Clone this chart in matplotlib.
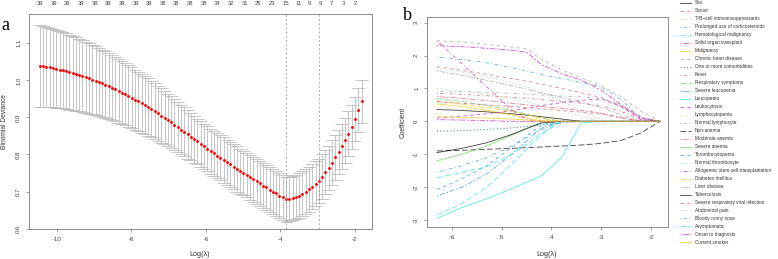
import matplotlib.pyplot as plt
import numpy as np
from matplotlib.lines import Line2D

plt.rcParams['font.family'] = ['Liberation Sans', 'DejaVu Sans']
plt.rcParams['axes.unicode_minus'] = False

# ---------------- panel a: cv curve ----------------
log_lambda = np.linspace(-10.46, -1.82, 99)
cv_mean = [1.039, 1.038, 1.036, 1.035, 1.033, 1.031, 1.029, 1.027, 1.025, 1.022,
           1.020, 1.017, 1.014, 1.011, 1.008, 1.005, 1.002, 0.999, 0.995, 0.992,
           0.988, 0.984, 0.980, 0.976, 0.972, 0.967, 0.963, 0.958, 0.953, 0.948,
           0.943, 0.938, 0.933, 0.928, 0.922, 0.917, 0.911, 0.905, 0.899, 0.893,
           0.887, 0.880, 0.874, 0.867, 0.861, 0.854, 0.848, 0.841, 0.835, 0.828,
           0.822, 0.816, 0.809, 0.803, 0.797, 0.791, 0.785, 0.779, 0.773, 0.767,
           0.761, 0.755, 0.750, 0.744, 0.738, 0.733, 0.727, 0.722, 0.716, 0.711,
           0.705, 0.700, 0.695, 0.689, 0.684, 0.679, 0.680, 0.682, 0.685, 0.689,
           0.694, 0.700, 0.706, 0.713, 0.721, 0.729, 0.740, 0.752, 0.764, 0.778,
           0.792, 0.807, 0.822, 0.838, 0.856, 0.875, 0.896, 0.919, 0.943]
cv_sd = [0.110, 0.109, 0.108, 0.107, 0.106, 0.105, 0.104, 0.103, 0.102, 0.101,
         0.100, 0.099, 0.098, 0.097, 0.096, 0.095, 0.094, 0.093, 0.092, 0.091,
         0.090, 0.089, 0.088, 0.087, 0.086, 0.085, 0.084, 0.083, 0.082, 0.081,
         0.080, 0.079, 0.078, 0.077, 0.076, 0.075, 0.074, 0.073, 0.072, 0.071,
         0.070, 0.069, 0.068, 0.067, 0.066, 0.065, 0.064, 0.063, 0.062, 0.062,
         0.061, 0.061, 0.061, 0.061, 0.061, 0.061, 0.061, 0.061, 0.061, 0.061,
         0.061, 0.061, 0.060, 0.060, 0.060, 0.060, 0.060, 0.060, 0.060, 0.060,
         0.060, 0.060, 0.060, 0.060, 0.060, 0.060, 0.060, 0.060, 0.060, 0.060,
         0.060, 0.060, 0.060, 0.060, 0.060, 0.060, 0.060, 0.060, 0.060, 0.060,
         0.060, 0.060, 0.060, 0.060, 0.060, 0.059, 0.059, 0.059, 0.059]

# number of non-zero coefficients shown on top
nz_pos = [-10.46, -10.09, -9.73, -9.36, -8.99, -8.62, -8.26, -7.89, -7.52, -7.16,
          -6.79, -6.42, -6.06, -5.69, -5.32, -4.95, -4.59, -4.22, -3.85,
          -3.52, -3.21, -2.92, -2.62, -2.30, -2.00]
nz_labels = [39, 39, 39, 39, 39, 39, 39, 39, 39, 38, 38, 38, 38, 34, 32, 31, 25, 23, 15,
             11, 9, 9, 7, 3, 2]

# ---------------- panel b: coefficient paths ----------------
path_x = [-6.3, -5.8, -5.3, -4.8, -4.5, -4.2, -3.8, -3.4, -3.0, -2.6, -2.2, -1.82]
sex = [0.36, 0.33, 0.29, 0.23, 0.19, 0.14, 0.07, 0, 0, 0, 0, 0]
senior = [1.66, 1.55, 1.43, 1.30, 1.22, 1.13, 1.00, 0.87, 0.72, 0.45, 0.12, 0]
tb_cell = [1.60, 1.50, 1.36, 1.18, 1.05, 0.88, 0.62, 0.32, 0.05, 0, 0, 0]
corticosteroids = [1.95, 1.88, 1.78, 1.63, 1.53, 1.43, 1.30, 1.18, 1.05, 0.65, 0.08, 0]
hemat_malignancy = [-2.85, -2.50, -2.00, -1.30, -0.85, -0.40, 0, 0, 0, 0, 0, 0]
solid_organ = [2.30, 2.27, 2.22, 2.16, 2.10, 1.72, 1.45, 1.25, 0.95, 0.50, 0.10, 0]
malignancy = [0.53, 0.45, 0.34, 0.20, 0.10, 0.02, 0, 0, 0, 0, 0, 0]
chronic_heart = [2.45, 2.41, 2.34, 2.26, 2.20, 1.88, 1.57, 1.32, 1.08, 0.75, 0.30, 0]
comorbidities = [-0.30, -0.28, -0.25, -0.20, -0.16, -0.11, -0.05, 0, 0, 0, 0, 0]
fever = [0.85, 0.82, 0.78, 0.73, 0.70, 0.66, 0.61, 0.55, 0.47, 0.30, 0.05, 0]
resp_symptoms = [0.69, 0.60, 0.48, 0.33, 0.22, 0.10, 0, 0, 0, 0, 0, 0]
severe_leucopenia = [-2.27, -2.00, -1.60, -1.00, -0.60, -0.20, 0, 0, 0, 0, 0, 0]
leucopenia = [-2.95, -2.62, -2.35, -2.05, -1.85, -1.65, -1.10, -0.05, 0, 0, 0, 0]
leukocytosis = [0.10, 0.16, 0.23, 0.32, 0.40, 0.48, 0.57, 0.64, 0.68, 0.45, 0.05, 0]
lymphocytopenia = [0.45, 0.38, 0.30, 0.20, 0.13, 0.05, 0, 0, 0, 0, 0, 0]
normal_lymph = [0.90, 0.90, 0.88, 0.85, 0.83, 0.80, 0.77, 0.74, 0.70, 0.50, 0.15, 0]
non_anemia = [-0.90, -0.88, -0.85, -0.82, -0.80, -0.78, -0.75, -0.72, -0.67, -0.58, -0.35, 0]
moderate_anemia = [0.75, 0.70, 0.63, 0.55, 0.50, 0.45, 0.40, 0.33, 0.25, 0.12, 0, 0]
severe_anemia = [-1.20, -1.00, -0.75, -0.42, -0.22, -0.02, 0, 0, 0, 0, 0, 0]
thrombocytopenia = [-2.07, -1.75, -1.35, -0.80, -0.45, -0.10, 0, 0, 0, 0, 0, 0]
normal_thromb = [-0.30, -0.28, -0.25, -0.20, -0.15, -0.10, -0.05, 0, 0, 0, 0, 0]
allogeneic = [2.45, 1.75, 1.05, 0.35, 0.05, 0, 0, 0, 0, 0, 0, 0]
diabetes = [0.60, 0.52, 0.42, 0.30, 0.20, 0.10, 0, 0, 0, 0, 0, 0]
liver = [1.53, 1.40, 1.25, 1.08, 0.98, 0.87, 0.73, 0.58, 0.42, 0.20, 0, 0]
tuberculosis = [-0.95, -0.82, -0.65, -0.40, -0.22, -0.05, 0, 0, 0, 0, 0, 0]
resp_viral = [0.60, 0.55, 0.50, 0.45, 0.42, 0.38, 0.33, 0.28, 0.22, 0.10, 0, 0]
abdominal_pain = [1.00, 0.92, 0.82, 0.70, 0.60, 0.48, 0.32, 0.15, 0, 0, 0, 0]
runny_nose = [-1.55, -1.35, -1.10, -0.75, -0.50, -0.25, 0, 0, 0, 0, 0, 0]
asymptomatic = [-1.72, -1.55, -1.38, -1.00, -0.70, -0.35, 0, 0, 0, 0, 0, 0]
onset = [0.05, 0.04, 0.02, 0, 0, 0, 0, 0, 0, 0, 0, 0]
smoker = [0.14, 0.12, 0.10, 0.07, 0.04, 0, 0, 0, 0, 0, 0, 0]

coef_names = ['Sex', 'Senior', 'T/B\u2212cell immunosuppressants', 'Prolonged use of corticosteroids',
              'Hematological malignancy', 'Solid organ transplant', 'Malignancy',
              'Chronic heart disease', 'One or more comorbidities', 'Fever',
              'Respiratory symptoms', 'Severe leucopenia', 'Leucopenia', 'Leukocytosis',
              'Lymphocytopenia', 'Normal lymphocyte', 'Non-anemia', 'Moderate anemia',
              'Severe anemia', 'Thrombocytopenia', 'Normal thrombocyte',
              'Allogeneic stem cell transplantation', 'Diabetes mellitus', 'Liver disease',
              'Tuberculosis', 'Severe respiratory viral infection', 'Abdominal pain',
              'Bloody runny nose', 'Asymptomatic', 'Onset to diagnosis', 'Current smoker']
coef_paths = [sex, senior, tb_cell, corticosteroids, hemat_malignancy, solid_organ, malignancy,
              chronic_heart, comorbidities, fever, resp_symptoms, severe_leucopenia, leucopenia,
              leukocytosis, lymphocytopenia, normal_lymph, non_anemia, moderate_anemia,
              severe_anemia, thrombocytopenia, normal_thromb, allogeneic, diabetes, liver,
              tuberculosis, resp_viral, abdominal_pain, runny_nose, asymptomatic, onset, smoker]

# R 4.x default palette and line types (cycled like matplot)
r_palette = ['#000000', '#DF536B', '#61D04F', '#2297E6', '#28E2E5', '#CD0BBC', '#F5C710', '#9E9E9E']
r_lty = ['-', (0, (4, 4)), (0, (1, 3)), (0, (1, 3, 4, 3)), (0, (7, 3)), (0, (2, 2, 6, 2))]

W, H = 778, 259
fig = plt.figure(figsize=(W / 100, H / 100), dpi=100)


def add_ax(l, t, r, b):
    return fig.add_axes([l / W, 1 - b / H, (r - l) / W, (b - t) / H])


def r_style(ax):
    for s in ax.spines.values():
        s.set_color('#7a7a7a')
        s.set_linewidth(0.6)
    ax.tick_params(direction='out', length=2.2, width=0.5, color='#7a7a7a',
                   labelsize=4.3, labelcolor='#404040', pad=3.5)
    ax.tick_params(axis='y', labelrotation=90)
    for lab in ax.get_yticklabels():
        lab.set_va('center')


# ---- panel a ----
ax1 = add_ax(29, 14, 372, 229.3)
mean = np.array(cv_mean)
sd = np.array(cv_sd)
upper = mean + sd
lower = mean - sd
barw = (log_lambda.max() - log_lambda.min()) * 0.02
ax1.vlines(log_lambda, lower, upper, color='#bcbcbc', lw=0.6)
ax1.hlines(upper, log_lambda - barw, log_lambda + barw, color='#bcbcbc', lw=0.6)
ax1.hlines(lower, log_lambda - barw, log_lambda + barw, color='#bcbcbc', lw=0.6)
ax1.plot(log_lambda, mean, 'o', color='red', ms=2.1, mec='none')

i_min = int(np.argmin(mean))
ok = np.where(mean <= mean[i_min] + sd[i_min])[0]
ax1.axvline(log_lambda[i_min], color='#909090', lw=0.5, ls=(0, (3, 3)))
ax1.axvline(log_lambda[ok.max()], color='#909090', lw=0.5, ls=(0, (3, 3)))

ax1.set_xlim(-10.75, -1.54)
ax1.set_ylim(0.598, 1.179)
ax1.set_xticks([-10, -8, -6, -4, -2])
ax1.set_yticks([0.6, 0.7, 0.8, 0.9, 1.0, 1.1])
ax1.set_yticklabels(['0.6', '0.7', '0.8', '0.9', '1.0', '1.1'])
r_style(ax1)

top = ax1.secondary_xaxis('top')
top.set_xticks(nz_pos, labels=[str(n) for n in nz_labels])
top.tick_params(length=0, labelsize=4.2, labelcolor='#404040', pad=5.5)
top.spines['top'].set_visible(False)

# ---- panel b ----
ax2 = add_ax(427, 16.7, 668, 227.3)
for k, vals in enumerate(coef_paths):
    ax2.plot(path_x, vals, color=r_palette[k % 8], ls=r_lty[k % 6], lw=0.6, alpha=0.75)
ax2.set_xlim(-6.50, -1.66)
ax2.set_ylim(-3.22, 3.18)
ax2.set_xticks([-6, -5, -4, -3, -2])
ax2.set_yticks([-3, -2, -1, 0, 1, 2, 3])
r_style(ax2)

# legend, drawn R-style to the right of panel b
for k, name in enumerate(coef_names):
    y = 1 - (3.0 + 7.98 * k) / H
    fig.add_artist(Line2D([680 / W, 691 / W], [y, y], transform=fig.transFigure,
                          color=r_palette[k % 8], ls=r_lty[k % 6], lw=0.6, alpha=0.75))
    fig.text(695 / W, y, name, fontsize=3.4, va='center', color='#333333')

# axis titles and panel letters
fig.text(5 / W, 1 - 122 / H, 'Binomial Deviance', rotation=90, ha='center', va='center',
         fontsize=4.8, color='#333333')
fig.text(200 / W, 1 - 254 / H, 'Log(\u03bb)', ha='center', va='center', fontsize=5.2, color='#333333')
fig.text(403 / W, 1 - 122 / H, 'Coefficient', rotation=90, ha='center', va='center',
         fontsize=4.8, color='#333333')
fig.text(547 / W, 1 - 254 / H, 'Log(\u03bb)', ha='center', va='center', fontsize=5.2, color='#333333')
fig.text(5 / W, 1 - 26 / H, 'a', family='Liberation Serif', fontsize=13, ha='center', va='center')
fig.text(407 / W, 1 - 16 / H, 'b', family='Liberation Serif', fontsize=13, ha='center', va='center')

fig.savefig('out.png', dpi=100)
